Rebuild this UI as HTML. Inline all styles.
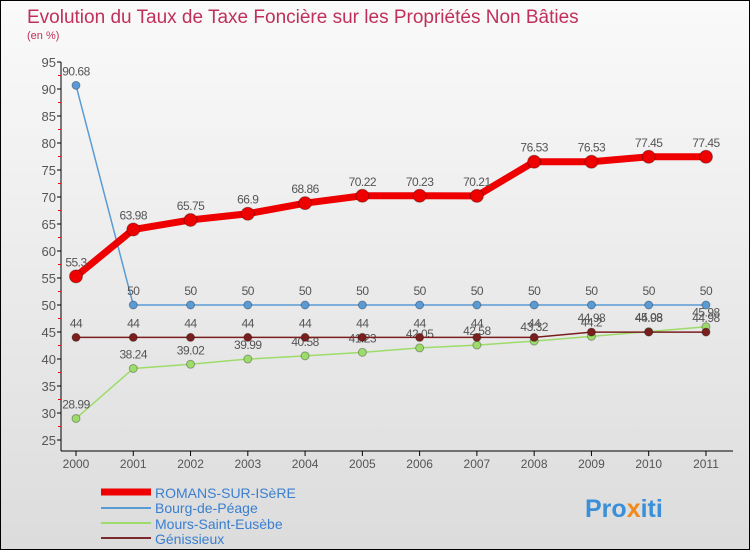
<!DOCTYPE html>
<html><head><meta charset="utf-8"><style>
body{margin:0;width:750px;height:550px;overflow:hidden;font-family:"Liberation Sans",sans-serif}
#c{position:absolute;left:0;top:0;width:748px;height:548px;border:1px solid #000;background:linear-gradient(#fafafa,#dcdcdc)}
</style></head><body>
<div id="c">
<svg id="s" width="748" height="548" xmlns="http://www.w3.org/2000/svg">
<text x="26" y="22" font-size="19" fill="#c0305a">Evolution du Taux de Taxe Foncière sur les Propriétés Non Bâties</text>
<text x="26" y="38" font-size="11" fill="#c0305a">(en %)</text>
<g id="ax"></g><g id="series"></g>
<g>
<line x1="100" y1="491" x2="150" y2="491" stroke="#e00" stroke-width="7"/>
<text x="154" y="497" font-size="14" fill="#3a7fd0">ROMANS-SUR-ISèRE</text>
<line x1="100" y1="507" x2="150" y2="507" stroke="#5b9bd5" stroke-width="2"/>
<text x="154" y="512" font-size="14" fill="#3a7fd0">Bourg-de-Péage</text>
<line x1="100" y1="522" x2="150" y2="522" stroke="#9ddc6a" stroke-width="2"/>
<text x="154" y="528" font-size="14" fill="#3a7fd0">Mours-Saint-Eusèbe</text>
<line x1="100" y1="537" x2="150" y2="537" stroke="#7a2a2a" stroke-width="2"/>
<text x="154" y="543" font-size="14" fill="#3a7fd0">Génissieux</text>
</g>
<text x="584" y="516" font-size="25" font-weight="bold" fill="#3a8fd8">Pro<tspan fill="#f08a1c">x</tspan>iti</text>
</svg></div>
<script>
const years=[2000,2001,2002,2003,2004,2005,2006,2007,2008,2009,2010,2011];
const yTicks=[25,30,35,40,45,50,55,60,65,70,75,80,85,90,95];
const romans=[55.3,63.98,65.75,66.9,68.86,70.22,70.23,70.21,76.53,76.53,77.45,77.45];
const bourg=[90.68,50,50,50,50,50,50,50,50,50,50,50];
const mours=[28.99,38.24,39.02,39.99,40.58,41.23,42.05,42.58,43.32,44.2,45.08,45.98];
const genis=[44,44,44,44,44,44,44,44,44,44.98,44.98,44.98];
const NS="http://www.w3.org/2000/svg";
const X=i=>75+i*57.27, Y=v=>304-(v-50)*5.4;
function mk(t,a,p){const e=document.createElementNS(NS,t);for(const k in a)e.setAttribute(k,a[k]);p.appendChild(e);return e;}
const ax=document.getElementById('ax'), sg=document.getElementById('series');
let l=mk('line',{x1:60,y1:Y(95),x2:60,y2:450,stroke:'#000'},ax);


l=mk('line',{x1:60,y1:450,x2:732,y2:450,stroke:'#000'},ax);


yTicks.forEach(v=>{
 mk('line',{x1:56,y1:Y(v),x2:60,y2:Y(v),stroke:'#000'},ax);
 if(v<95)mk('line',{x1:57,y1:Y(v+2.5),x2:60,y2:Y(v+2.5),stroke:'#e00'},ax);
 const t=mk('text',{x:55,y:Y(v)+5,'font-size':13,fill:'#555','text-anchor':'end'},ax);t.textContent=v;
 
 
});
years.forEach((yr,i)=>{
 mk('line',{x1:X(i),y1:450,x2:X(i),y2:455,stroke:'#000'},ax);
 const t=mk('text',{x:X(i),y:467,'font-size':12,fill:'#555','text-anchor':'middle'},ax);t.textContent=yr;
 
 
});
function draw(vals,color,w,r,name){
 const p=mk('polyline',{points:vals.map((v,i)=>X(i)+','+Y(v)).join(' '),fill:'none',stroke:color,'stroke-width':w},sg);
 
 
 vals.forEach((v,i)=>{
  const c=mk('circle',{cx:X(i),cy:Y(v),r:r,fill:color,stroke:'rgba(0,0,0,0.3)'},sg);
  
  
  const t=mk('text',{x:X(i),y:Y(v)-10,'font-size':12,fill:'#555','text-anchor':'middle','letter-spacing':'-0.5'},sg);t.textContent=v;
  
  
 });
}
draw(bourg,'#5b9bd5',1.5,4,'bourg');
draw(mours,'#9ddc6a',1.5,4,'mours');
draw(genis,'#7a1e1e',1.5,4,'genissieux');
draw(romans,'#ee0000',7,6.5,'romans');
</script>
</body></html>
